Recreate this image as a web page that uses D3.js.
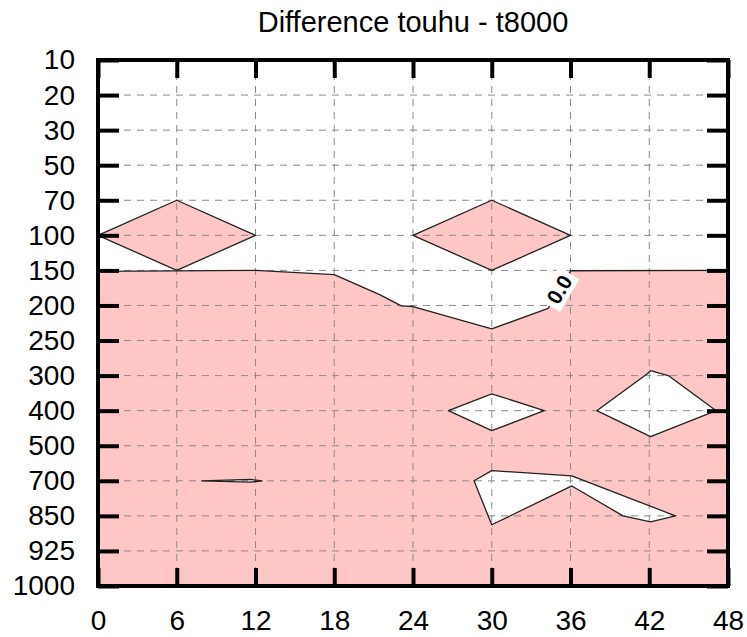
<!DOCTYPE html>
<html>
<head>
<meta charset="utf-8">
<script src="https://cdn.jsdelivr.net/npm/d3@7"></script>
<style>
  body { margin: 0; background: #fff; }
  svg { display: block; font-family: "Liberation Sans", Arial, Helvetica, sans-serif; }
</style>
</head>
<body>
<div class="chart"></div>
<script>
// axis categories
const hours = [0, 6, 12, 18, 24, 30, 36, 42, 48]
const levels = [10, 20, 30, 50, 70, 100, 150, 200, 250, 300, 400, 500, 700, 850, 925, 1000]

// shaded (negative) areas, [hour, hPa]
const shadeMain = [[0, 151.5], [12, 150], [18, 156], [21.5, 185], [23.1, 200.5], [24, 201.5],
    [30, 233.5], [34.3, 204], [36, 150.5], [48, 150], [48, 1000], [0, 1000]]
const shadeLeft = [[0, 100], [6, 70], [12, 100], [6, 150]]
const shadeMid = [[24, 100], [30, 70], [36, 100], [30, 150]]

// unshaded holes inside the main area
const holeA = [[26.7, 400], [30, 352], [34, 400], [30, 457]]
const holeB = [[38, 400], [41.8, 298], [42.1, 293], [43.5, 301], [47.1, 400], [42.1, 474]]
const holeC = [[28.65, 700], [30, 642], [36.1, 672], [44, 850], [42.1, 863], [40, 850], [36.1, 722], [30, 869]]
const holeD = [[7.9, 700], [11.6, 692], [12.5, 700], [11.6, 706]]

const contourLabel = "0.0"
const title = "Difference touhu - t8000"

const width = 747
const height = 637
const margin = { top: 60, right: 19, bottom: 51, left: 98 }

const x = d3.scaleLinear()
    .domain([0, 48])
    .range([margin.left, width - margin.right])

const step = (height - margin.bottom - margin.top) / (levels.length - 1)
const y = d3.scaleLinear()
    .domain(levels)
    .range(levels.map((d, i) => margin.top + i * step))

const svg = d3.select(".chart")
    .append("svg")
    .attr("width", width)
    .attr("height", height)

const pink = "#ffc6c6"
const line = d3.line().x(d => x(d[0])).y(d => y(d[1]))
const area = pts => line(pts) + "Z"

// fills
svg.append("g")
    .selectAll("path")
    .data([shadeMain, shadeLeft, shadeMid])
    .join("path")
    .attr("d", area)
    .attr("fill", pink)

svg.append("g")
    .selectAll("path")
    .data([holeA, holeB, holeC, holeD])
    .join("path")
    .attr("d", area)
    .attr("fill", "#fff")

// dashed grid
const grid = svg.append("g")
    .attr("stroke", "#8a8a8a")
    .attr("stroke-width", 1)
    .attr("stroke-dasharray", "7,6")
grid.selectAll("line.h")
    .data(levels.slice(1, -1))
    .join("line")
    .attr("class", "h")
    .attr("x1", x(0)).attr("x2", x(48))
    .attr("y1", d => y(d)).attr("y2", d => y(d))
grid.selectAll("line.v")
    .data(hours.slice(1, -1))
    .join("line")
    .attr("class", "v")
    .attr("x1", d => x(d)).attr("x2", d => x(d))
    .attr("y1", y(10)).attr("y2", y(1000))

// zero contour lines
const lines = svg.append("g")
    .attr("fill", "none")
    .attr("stroke", "#222")
    .attr("stroke-width", 1.3)
    .attr("stroke-linejoin", "round")
lines.append("path").attr("d", line(shadeMain.slice(0, 10)))
lines.selectAll("path.c")
    .data([shadeLeft, shadeMid, holeA, holeB, holeC, holeD])
    .join("path")
    .attr("class", "c")
    .attr("d", area)

// contour label
const p1 = [x(shadeMain[7][0]), y(shadeMain[7][1])]
const p2 = [x(shadeMain[8][0]), y(shadeMain[8][1])]
const ang = Math.atan2(p2[1] - p1[1], p2[0] - p1[0]) * 180 / Math.PI
const lab = svg.append("g")
    .attr("transform", `translate(${(p1[0] + p2[0]) / 2}, ${(p1[1] + p2[1]) / 2})rotate(${ang})`)
lab.append("rect")
    .attr("x", -19).attr("y", -12)
    .attr("width", 38).attr("height", 24)
    .attr("fill", "#fff")
lab.append("text")
    .text(contourLabel)
    .attr("text-anchor", "middle")
    .attr("dy", "0.35em")
    .attr("font-size", 21)
    .attr("font-weight", "bold")

// axes with inward ticks on all four sides
const styleAxis = g => {
    g.select(".domain").remove()
    g.selectAll(".tick line").attr("stroke", "#000").attr("stroke-width", 4)
    g.selectAll(".tick text").attr("fill", "#000").attr("font-size", 28)
}

svg.append("g")
    .attr("transform", `translate(${x(0)}, 0)`)
    .call(d3.axisLeft(y).tickValues(levels).tickFormat(d3.format("d")).tickSize(-21).tickPadding(23))
    .call(styleAxis)

svg.append("g")
    .attr("transform", `translate(${x(48)}, 0)`)
    .call(d3.axisRight(y).tickValues(levels).tickSize(-21).tickFormat(""))
    .call(styleAxis)

svg.append("g")
    .attr("transform", `translate(0, ${y(1000)})`)
    .call(d3.axisBottom(x).tickValues(hours).tickSize(-18).tickPadding(24))
    .call(styleAxis)

svg.append("g")
    .attr("transform", `translate(0, ${y(10)})`)
    .call(d3.axisTop(x).tickValues(hours).tickSize(-18).tickFormat(""))
    .call(styleAxis)

// frame
svg.append("rect")
    .attr("x", x(0)).attr("y", y(10))
    .attr("width", x(48) - x(0))
    .attr("height", y(1000) - y(10))
    .attr("fill", "none")
    .attr("stroke", "#000")
    .attr("stroke-width", 4)

// title
svg.append("text")
    .text(title)
    .attr("x", (x(0) + x(48)) / 2)
    .attr("y", 32)
    .attr("text-anchor", "middle")
    .attr("font-size", 29)
</script>
</body>
</html>
